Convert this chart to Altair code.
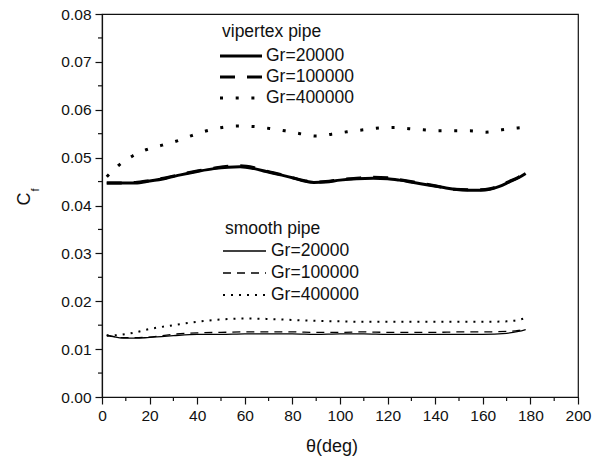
import altair as alt
import pandas as pd

FONT = "Liberation Sans"

# ---------------- data ----------------
theta_v = [2, 8, 14, 20, 27, 33, 40, 47, 53, 58, 64, 69, 75, 80, 85, 89, 94, 100, 107,
           114, 120, 125, 131, 137, 143, 148, 154, 159, 163, 167, 171, 175, 178]
vip_20000 = [0.0447, 0.0447, 0.0447, 0.0451, 0.0457, 0.0464, 0.0471, 0.0477, 0.0480, 0.0481,
             0.0477, 0.0471, 0.0464, 0.0458, 0.0451, 0.0448, 0.0449, 0.0453, 0.0456, 0.0457,
             0.0456, 0.0453, 0.0448, 0.0443, 0.0438, 0.0434, 0.0432, 0.0432, 0.0434, 0.0440,
             0.0449, 0.0458, 0.0467]
vip_100000 = [0.0447, 0.0447, 0.0448, 0.0452, 0.0458, 0.0465, 0.0472, 0.0478, 0.0482, 0.0483,
              0.0479, 0.0472, 0.0465, 0.0458, 0.0452, 0.0449, 0.0450, 0.0454, 0.0457, 0.0459,
              0.0458, 0.0454, 0.0449, 0.0444, 0.0438, 0.0434, 0.0433, 0.0433, 0.0435, 0.0441,
              0.0450, 0.0459, 0.0469]
theta_v400 = [2, 6.8, 12.7, 18.8, 25.3, 31.6, 37.7, 44, 50.5, 57, 63.7, 70.3, 76.9, 83.2,
              89.9, 96.5, 103, 109.8, 116.4, 123, 129.7, 135, 141.3, 148, 154.6, 161.2, 168,
              174.7, 178]
vip_400000 = [0.0460, 0.0483, 0.0503, 0.0517, 0.0526, 0.0535, 0.0546, 0.0556, 0.0563, 0.0566,
              0.0565, 0.0561, 0.0556, 0.0550, 0.0545, 0.0549, 0.0554, 0.0558, 0.0562, 0.0563,
              0.0560, 0.0558, 0.0556, 0.0556, 0.0556, 0.0553, 0.0558, 0.0562, 0.0563]

theta_s = [2, 5, 9, 14, 19, 25, 30, 40, 50, 60, 70, 80, 90, 100, 110, 120, 130, 140, 150,
           160, 170, 175, 178]
smooth_20000 = [0.0130, 0.0126, 0.0123, 0.0123, 0.0124, 0.0126, 0.0128, 0.0131, 0.0131, 0.0132,
                0.0132, 0.0132, 0.0131, 0.0132, 0.0132, 0.0131, 0.0131, 0.0131, 0.0131, 0.0131,
                0.0133, 0.0137, 0.0141]
smooth_100000 = [0.0129, 0.0126, 0.0124, 0.0124, 0.0125, 0.0128, 0.0131, 0.0134, 0.0135, 0.0136,
                 0.0136, 0.0136, 0.0135, 0.0135, 0.0136, 0.0135, 0.0135, 0.0135, 0.0136, 0.0136,
                 0.0137, 0.0139, 0.0142]
theta_s400 = [2, 6, 13, 20, 30, 40, 50, 60, 70, 80, 90, 100, 110, 120, 130, 140, 150, 160,
              170, 175, 178]
smooth_400000 = [0.0128, 0.0129, 0.0134, 0.0142, 0.0150, 0.0157, 0.0162, 0.0164, 0.0163, 0.0161,
                 0.0159, 0.0158, 0.0157, 0.0157, 0.0157, 0.0157, 0.0157, 0.0157, 0.0158, 0.0161,
                 0.0165]

x_major = list(range(0, 201, 20))
x_minor = list(range(10, 200, 20))
y_major = [round(0.01 * i, 2) for i in range(0, 9)]
y_minor = [round(0.005 + 0.01 * i, 3) for i in range(0, 8)]

legend_titles = ["vipertex pipe", "smooth pipe"]
legend_labels = ["Gr=20000", "Gr=100000", "Gr=400000"]
x_title = "θ(deg)"
y_title_main = "C"
y_title_sub = "f"

# ---------------- encodings ----------------
W, H = 476, 383

X = alt.X("theta:Q",
          scale=alt.Scale(domain=[0, 200], nice=False, zero=False),
          axis=alt.Axis(values=x_major, title=None, grid=False, tickSize=7,
                        labelPadding=4, labelFontSize=15.5, labelFont=FONT,
                        labelColor="#111", domainColor="#111", tickColor="#111",
                        domainWidth=1.2, tickWidth=1.2, labelFlush=False))
Y = alt.Y("cf:Q",
          scale=alt.Scale(domain=[0, 0.08], nice=False, zero=False),
          axis=alt.Axis(values=y_major, format=".2f", title=None, grid=False,
                        tickSize=7, labelPadding=4, labelFontSize=15.5, labelFont=FONT,
                        labelColor="#111", domainColor="#111", tickColor="#111",
                        domainWidth=1.2, tickWidth=1.2, labelFlush=False))


def line(thetas, vals, width, dash=None, cap="butt"):
    df = pd.DataFrame({"theta": thetas, "cf": vals})
    kw = dict(color="black", strokeWidth=width, strokeCap=cap, interpolate="monotone")
    if dash:
        kw["strokeDash"] = dash
    return alt.Chart(df).mark_line(**kw).encode(x=X, y=Y)


DASH_V = [15, 12]
DOT_V = [3, 12.7]
DASH_S = [8, 6]
DOT_S = [2, 6]

layers = [
    line(theta_s, smooth_20000, 1.3),
    line(theta_s, smooth_100000, 1.3, DASH_S),
    line(theta_s400, smooth_400000, 2, DOT_S),
    line(theta_v, vip_20000, 3),
    line(theta_v, vip_100000, 3, DASH_V),
    line(theta_v400, vip_400000, 3, DOT_V),
]

# minor ticks
ymin_df = pd.DataFrame({"cf": y_minor})
layers.append(alt.Chart(ymin_df).mark_rule(color="#111", strokeWidth=1.2).encode(
    y=Y, x=alt.value(-4), x2=alt.value(0)))
xmin_df = pd.DataFrame({"theta": x_minor})
layers.append(alt.Chart(xmin_df).mark_rule(color="#111", strokeWidth=1.2).encode(
    x=X, y=alt.value(H), y2=alt.value(H + 4)))

one = pd.DataFrame({"k": [0]})


def text(t, x, y, size=17.5, align="left", angle=0):
    kw = dict(align=align, baseline="middle", fontSize=size, font=FONT, color="#111")
    if angle:
        kw["angle"] = angle
    return alt.Chart(one).mark_text(**kw).encode(
        x=alt.value(x), y=alt.value(y), text=alt.value(t))


def leg_line(x1, x2, y, width, dash=None):
    kw = dict(color="black", strokeWidth=width)
    if dash:
        kw["strokeDash"] = dash
    return alt.Chart(one).mark_rule(**kw).encode(
        x=alt.value(x1), x2=alt.value(x2), y=alt.value(y))


# vipertex legend
layers += [
    text(legend_titles[0], 120, 18),
    leg_line(118, 160, 42, 3), text(legend_labels[0], 164, 42),
    leg_line(118, 160, 63, 3, DASH_V), text(legend_labels[1], 164, 63),
    leg_line(118, 160, 84, 3, DOT_V), text(legend_labels[2], 164, 84),
]
# smooth legend
layers += [
    text(legend_titles[1], 123, 215),
    leg_line(121, 164, 237, 1.3), text(legend_labels[0], 169, 237),
    leg_line(121, 164, 259, 1.3, DASH_S), text(legend_labels[1], 169, 259),
    leg_line(121, 164, 281, 2, DOT_S), text(legend_labels[2], 169, 281),
]
# axis titles
layers += [
    text(x_title, 230, 433, size=18, align="center"),
    text(y_title_main, -77, 185, size=18, align="center", angle=270),
    text(y_title_sub, -66, 176, size=11, align="center", angle=270),
]

chart = alt.layer(*layers).properties(
    width=W, height=H,
    autosize=alt.AutoSizeParams(type="none"),
    padding={"left": 102, "top": 14, "right": 18, "bottom": 62},
    background="white",
).configure_view(stroke="#111", strokeWidth=1.2)

chart.save("out.html", embed_options={"renderer": "svg", "actions": False})
